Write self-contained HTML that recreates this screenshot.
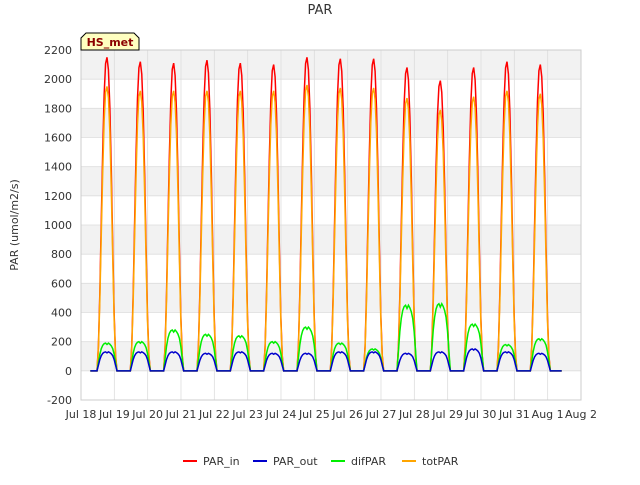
<!DOCTYPE html>
<html><head><meta charset="utf-8"><style>
body{margin:0;background:#fff;font-family:"Liberation Sans","DejaVu Sans",sans-serif}
</style></head><body>
<svg id="chart" width="640" height="480" xmlns="http://www.w3.org/2000/svg" font-family="DejaVu Sans, Liberation Sans, sans-serif">
<text x="320" y="14" text-anchor="middle" font-size="13" fill="#333">PAR</text>
<g id="plot"></g>
<text transform="translate(18,225) rotate(-90)" text-anchor="middle" font-size="11" fill="#333">PAR (umol/m2/s)</text>
<g>
<path d="M81,50 L81,38 L86,33 L134,33 L139,38 L139,50 Z" fill="#ffffc0" stroke="#000" stroke-width="1"/>
<text x="110" y="46" text-anchor="middle" font-size="11" font-weight="bold" fill="#8b0000">HS_met</text>
</g>
<g id="legend"></g>
</svg>
<script>
const yTicks=[-200,0,200,400,600,800,1000,1200,1400,1600,1800,2000,2200];
const xTickLabels=["Jul 18","Jul 19","Jul 20","Jul 21","Jul 22","Jul 23","Jul 24","Jul 25","Jul 26","Jul 27","Jul 28","Jul 29","Jul 30","Jul 31","Aug 1","Aug 2"];
const parInPeaks=[2150,2120,2110,2130,2110,2100,2150,2140,2140,2080,1990,2080,2120,2100];
const totParPeaks=[1950,1920,1920,1920,1920,1920,1960,1940,1940,1870,1790,1880,1920,1900];
const parOutPeaks=[130,130,130,120,130,120,120,130,130,120,130,150,130,120];
const difParPeaks=[190,200,280,250,240,200,300,190,150,450,460,320,180,220];
const profile=[0,0.08,0.25,0.48,0.7,0.88,0.98,1,0.96,0.84,0.64,0.4,0.18,0.05,0];
const difProfile=[0,0.3,0.6,0.8,0.92,0.98,1,0.95,1,0.96,0.9,0.8,0.6,0.3,0];
const x0=81,x1=581,y0=50,y1=400;
const X=d=>x0+(d/15)*(x1-x0);
const Y=v=>y1-(v+200)/2400*(y1-y0);
const ns="http://www.w3.org/2000/svg";
const plot=document.getElementById('plot');
function mk(t,a,p){const e=document.createElementNS(ns,t);for(const k in a)e.setAttribute(k,a[k]);(p||plot).appendChild(e);return e;}
for(let i=0;i<yTicks.length-1;i++){if(i%2==1){const r=mk('rect',{x:x0,y:Y(yTicks[i+1]),width:x1-x0,height:Y(yTicks[i])-Y(yTicks[i+1]),fill:'#f2f2f2'});}}
yTicks.forEach(v=>{const l=mk('line',{x1:x0,x2:x1,y1:Y(v),y2:Y(v),stroke:'#ddd','stroke-width':0.8});
const t=mk('text',{x:x0-9,y:Y(v)+4,'text-anchor':'end','font-size':11,fill:'#333'});t.textContent=v;});
xTickLabels.forEach((s,i)=>{const l=mk('line',{x1:X(i),x2:X(i),y1:y0,y2:y1,stroke:'#ddd','stroke-width':0.8});
const t=mk('text',{x:X(i),y:y1+18,'text-anchor':'middle','font-size':11,fill:'#333'});t.textContent=s;});
const fr=mk('rect',{x:x0,y:y0,width:x1-x0,height:y1-y0,fill:'none',stroke:'#ccc'});
function series(peaks,prof,color,name){let pts=[[X(0.28),Y(0)]];
peaks.forEach((p,d)=>{const s=d+0.48,e=d+1.08;pts.push([X(s),Y(0)]);prof.forEach((f,k)=>{pts.push([X(s+(e-s)*k/(prof.length-1)),Y(p*f)]);});pts.push([X(e),Y(0)]);});
pts.push([X(14.42),Y(0)]);
const pl=mk('polyline',{points:pts.map(p=>p.join(',')).join(' '),fill:'none',stroke:color,'stroke-width':1.5});}
series(parInPeaks,profile,'#ff0000','par-in');
series(totParPeaks,profile,'#ffa500','tot-par');
series(difParPeaks,difProfile,'#00ee00','dif-par');
series(parOutPeaks,difProfile,'#0000cc','par-out');
const lg=document.getElementById('legend');
[["PAR_in","#ff0000",183],["PAR_out","#0000cc",253],["difPAR","#00ee00",331],["totPAR","#ffa500",402]].forEach(([n,c,x])=>{
const l=mk('line',{x1:x,x2:x+14,y1:461,y2:461,stroke:c,'stroke-width':2},lg);
const t=mk('text',{x:x+20,y:465,'font-size':11,fill:'#333'},lg);t.textContent=n;});
</script>
</body></html>
